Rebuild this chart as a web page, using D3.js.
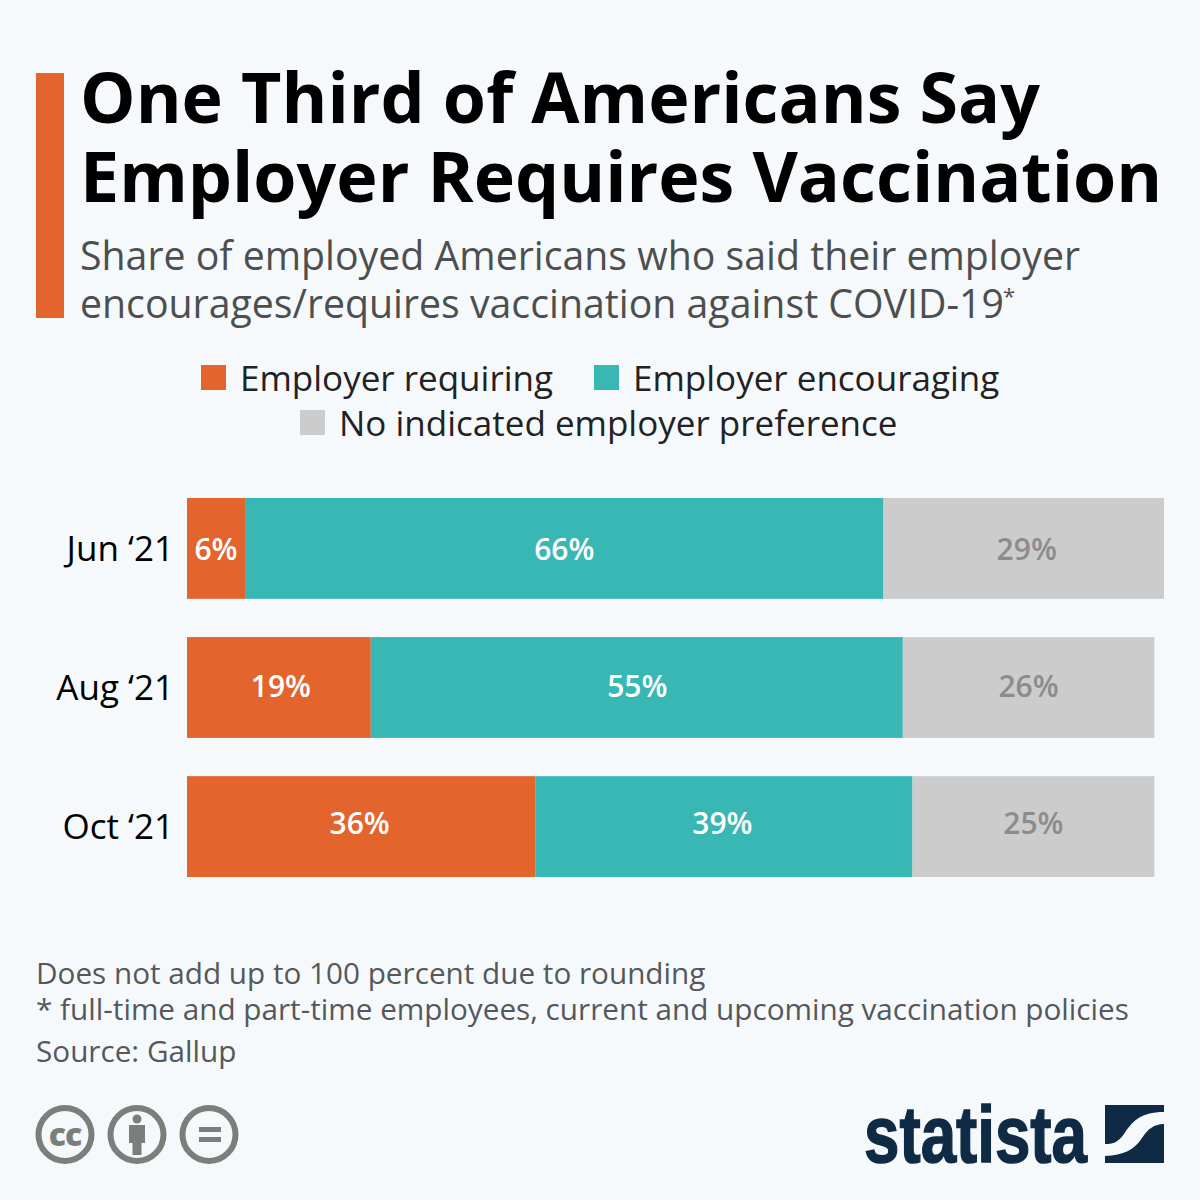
<!DOCTYPE html>
<html>
<head>
<meta charset="utf-8">
<script src="https://cdn.jsdelivr.net/npm/d3@7"></script>
<style>
  html, body { margin: 0; padding: 0; background: #f5f9fc; }
  text { font-family: "Open Sans", sans-serif; }
</style>
</head>
<body>
<div id="chart"></div>
<script>
const months = ["Jun ‘21", "Aug ‘21", "Oct ‘21"];
const requiring = [6, 19, 36];
const encouraging = [66, 55, 39];
const noPreference = [29, 26, 25];

const seriesNames = ["Employer requiring", "Employer encouraging", "No indicated employer preference"];
const seriesColors = ["#e3642c", "#39b7b4", "#cccccc"];
const labelColors = ["#ffffff", "#ffffff", "#8c8c8c"];

const titleLines = ["One Third of Americans Say", "Employer Requires Vaccination"];
const subtitleLines = ["Share of employed Americans who said their employer", "encourages/requires vaccination against COVID-19"];
const noteLines = [
  "Does not add up to 100 percent due to rounding",
  "* full-time and part-time employees, current and upcoming vaccination policies",
  "Source: Gallup"
];

const width = 1200, height = 1200;
const svg = d3.select("#chart").append("svg")
  .attr("width", width)
  .attr("height", height)
  .style("display", "block");

svg.append("rect").attr("width", width).attr("height", height).attr("fill", "#f5f9fc");

// header
svg.append("rect").attr("x", 36).attr("y", 73).attr("width", 28).attr("height", 245).attr("fill", "#e3642c");

svg.selectAll(".title").data(titleLines).join("text")
  .attr("class", "title")
  .attr("x", 80)
  .attr("y", (d, i) => 123 + i * 79)
  .attr("font-size", 69.9)
  .attr("font-weight", 700)
  .attr("fill", "#000")
  .text(d => d);

svg.selectAll(".subtitle").data(subtitleLines).join("text")
  .attr("class", "subtitle")
  .attr("x", 80)
  .attr("y", (d, i) => 270 + i * 48)
  .attr("font-size", 39.25)
  .attr("fill", "#4d4f4f")
  .text(d => d);

svg.append("text")
  .attr("x", 1003).attr("y", 304)
  .attr("font-size", 22)
  .attr("fill", "#4d4f4f")
  .text("*");

// legend
const legendPos = [[201, 391], [594, 391], [300, 436]];
const legend = svg.selectAll(".legend").data(seriesNames).join("g")
  .attr("class", "legend")
  .attr("transform", (d, i) => `translate(${legendPos[i][0]},${legendPos[i][1]})`);
legend.append("rect")
  .attr("y", -26).attr("width", 25).attr("height", 25)
  .attr("fill", (d, i) => seriesColors[i]);
legend.append("text")
  .attr("x", 39)
  .attr("font-size", 35)
  .attr("fill", "#222")
  .text(d => d);

// bars
const x = d3.scaleLinear().domain([0, 101]).range([187, 1164]);
const y = d3.scaleBand().domain(months).range([498, 877]).paddingInner(0.275);

const table = months.map((m, i) => ({ month: m, requiring: requiring[i], encouraging: encouraging[i], noPreference: noPreference[i] }));
const stacked = d3.stack().keys(["requiring", "encouraging", "noPreference"])(table);

const layers = svg.selectAll(".layer").data(stacked).join("g").attr("class", "layer");

layers.selectAll("rect").data(d => d).join("rect")
  .attr("x", d => x(d[0]))
  .attr("y", d => y(d.data.month))
  .attr("width", d => x(d[1]) - x(d[0]))
  .attr("height", y.bandwidth())
  .attr("fill", function () { return seriesColors[stacked.indexOf(d3.select(this.parentNode).datum())]; });

// the original labels sit a little off the segment centres
const labelShiftX = [[0, 2, -1.5], [0, 0.5, -1.5], [3, 0, 0]];
const labelShiftY = [2, -1, -3];

layers.each(function (layer, s) {
  d3.select(this).selectAll("text").data(layer).join("text")
    .attr("x", (d, i) => (x(d[0]) + x(d[1])) / 2 + labelShiftX[s][i])
    .attr("y", (d, i) => y(d.data.month) + y.bandwidth() / 2 + 10 + labelShiftY[i])
    .attr("text-anchor", "middle")
    .attr("font-size", 30)
    .attr("font-weight", 600)
    .attr("fill", labelColors[s])
    .text(d => (d[1] - d[0]) + "%");
});

const yAxis = svg.append("g")
  .attr("transform", "translate(174,1)")
  .call(d3.axisLeft(y).tickSize(0).tickPadding(0));
yAxis.select(".domain").remove();
yAxis.selectAll("text")
  .attr("font-size", 35)
  .attr("fill", "#000")
  .style("font-family", '"Open Sans", sans-serif');

// footer notes
const noteY = [984, 1020, 1062];
svg.selectAll(".note").data(noteLines).join("text")
  .attr("class", "note")
  .attr("x", 36)
  .attr("y", (d, i) => noteY[i])
  .attr("font-size", 29.7)
  .attr("fill", "#55585a")
  .text(d => d);

// cc icons
const icons = svg.append("g").attr("fill", "#7b7f7c");
[65, 137, 209].forEach(cx => {
  icons.append("circle").attr("cx", cx).attr("cy", 1134.5).attr("r", 26.5)
    .attr("fill", "none").attr("stroke", "#7b7f7c").attr("stroke-width", 6);
});
icons.append("text").attr("x", 65).attr("y", 1146).attr("text-anchor", "middle")
  .attr("font-size", 32).attr("font-weight", 800).attr("letter-spacing", -1).text("cc");
icons.append("circle").attr("cx", 137).attr("cy", 1119).attr("r", 4.5);
icons.append("path").attr("d", "M129 1125h16v18h-3.5v12h-9v-12H129z");
icons.append("rect").attr("x", 199).attr("y", 1127).attr("width", 22).attr("height", 5);
icons.append("rect").attr("x", 199).attr("y", 1137).attr("width", 22).attr("height", 5);

// statista logo
svg.append("text")
  .attr("x", 864).attr("y", 1162)
  .attr("font-size", 80)
  .attr("font-weight", 700)
  .attr("fill", "#0f2a45")
  .attr("stroke", "#0f2a45")
  .attr("stroke-width", 1.5)
  .attr("textLength", 223)
  .attr("lengthAdjust", "spacingAndGlyphs")
  .style("font-family", '"Liberation Sans Narrow", "Liberation Sans", sans-serif')
  .text("statista");
svg.append("path").attr("fill", "#0f2a45")
  .attr("d", "M1105 1105H1164V1112C1140 1112 1132 1122 1124 1134C1118 1143 1112 1144 1105 1144Z");
svg.append("path").attr("fill", "#0f2a45")
  .attr("d", "M1164 1124V1163H1105V1156C1124 1155 1134 1150 1142 1138C1148 1129 1154 1124 1164 1124Z");
</script>
</body>
</html>
